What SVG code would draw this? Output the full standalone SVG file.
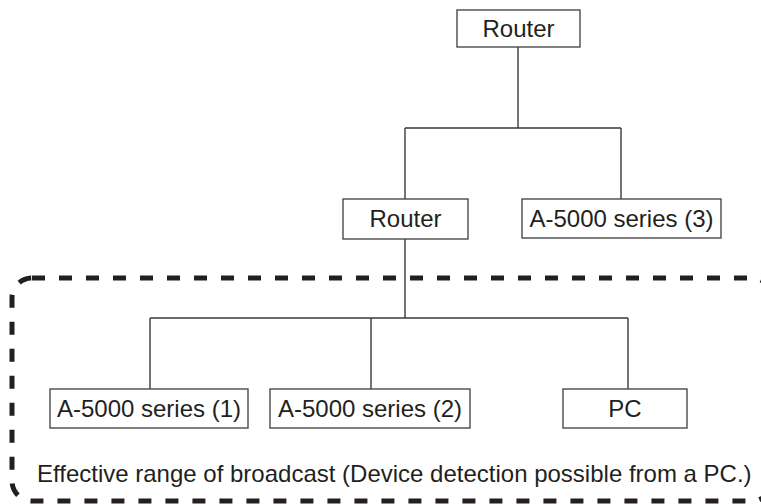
<svg xmlns="http://www.w3.org/2000/svg" width="761" height="504" viewBox="0 0 761 504">
<style>
.box{fill:#fff;stroke:#4a4a4a;stroke-width:1.4}
.lbl{font-family:"Liberation Sans",Arial,sans-serif;font-size:24px;fill:#231f20;text-anchor:middle}
.conn{fill:none;stroke:#3a3a3a;stroke-width:1.4}
.range{fill:none;stroke:#231f20;stroke-width:5;stroke-dasharray:13 14}
</style>
<rect width="761" height="504" fill="#fff"/>
<g id="broadcast-range">
<rect class="range" x="12" y="278" width="760" height="223" rx="20" ry="20"/>
<text class="lbl" x="37" y="482" style="text-anchor:start">Effective range of broadcast (Device detection possible from a PC.)</text>
</g>
<g id="connectors">
<path class="conn" d="M518,47V128M405,128H621M405,128V199M621,128V199"/>
<path class="conn" d="M405,239V318M150,318H628M150,318V389M371,318V389M628,318V389"/>
</g>
<g id="router-top">
<rect class="box" x="457" y="10" width="123" height="37"/>
<text class="lbl" x="518.5" y="37">Router</text>
</g>
<g id="router-mid">
<rect class="box" x="343" y="199" width="125" height="40"/>
<text class="lbl" x="405.5" y="227">Router</text>
</g>
<g id="a5000-3">
<rect class="box" x="522" y="199" width="199" height="39"/>
<text class="lbl" x="621.5" y="227">A-5000 series (3)</text>
</g>
<g id="a5000-1">
<rect class="box" x="50" y="389" width="198" height="39"/>
<text class="lbl" x="149" y="417">A-5000 series (1)</text>
</g>
<g id="a5000-2">
<rect class="box" x="270" y="389" width="200" height="39"/>
<text class="lbl" x="370" y="417">A-5000 series (2)</text>
</g>
<g id="pc">
<rect class="box" x="563" y="389" width="124" height="39"/>
<text class="lbl" x="625" y="417">PC</text>
</g>
</svg>
